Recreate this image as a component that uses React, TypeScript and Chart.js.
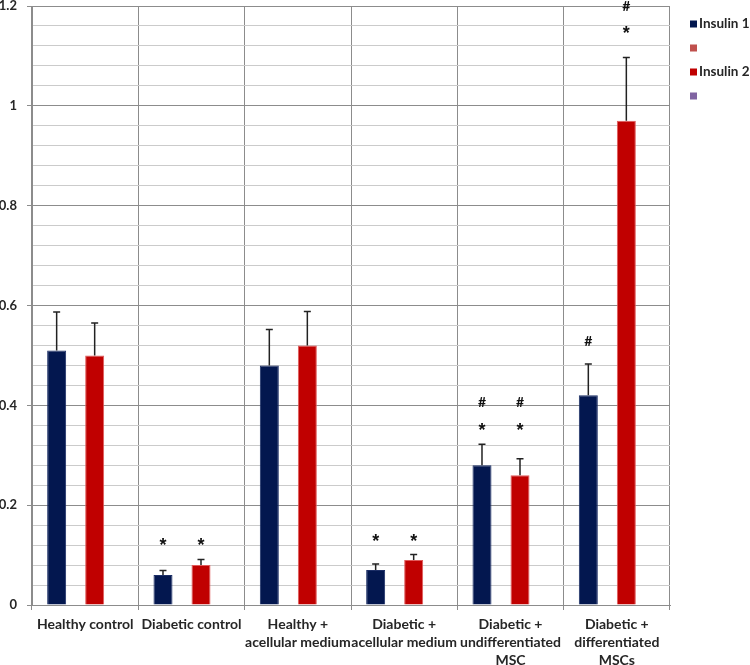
import React, { useEffect, useRef } from "react";
import { Chart, registerables } from "chart.js";

Chart.register(...registerables);

const categories: string[][] = [
  ["Healthy control"],
  ["Diabetic control"],
  ["Healthy +", "acellular medium"],
  ["Diabetic +", "acellular medium"],
  ["Diabetic +", "undifferentiated", "MSC"],
  ["Diabetic +", "differentiated", "MSCs"],
];

const seriesLabels = ["Insulin 1", "", "Insulin 2", ""];
const seriesColors = ["#03174f", "#c0504d", "#c00000", "#8064a2"];

const insulin1 = [0.51, 0.06, 0.48, 0.07, 0.28, 0.42];
const insulin1Err = [0.077, 0.009, 0.072, 0.012, 0.042, 0.063];
const insulin2 = [0.5, 0.08, 0.52, 0.09, 0.26, 0.97];
const insulin2Err = [0.065, 0.011, 0.068, 0.011, 0.033, 0.127];
const emptySeries = [null, null, null, null, null, null];

// significance marks: value level at which each symbol sits
const insulin1Star = [null, 0.129, null, 0.136, 0.359, null];
const insulin1Hash = [null, null, null, null, 0.407, 0.529];
const insulin2Star = [null, 0.129, null, 0.136, 0.359, 1.154];
const insulin2Hash = [null, null, null, null, 0.407, 1.2];

const yMin = 0;
const yMax = 1.2;
const yStep = 0.04;

const FONT = "Lato, 'Open Sans', sans-serif";

const errorBarPlugin = {
  id: "errorBarsAndMarks",
  afterDatasetsDraw(chart: any) {
    const ctx = chart.ctx;
    const y = chart.scales.y;
    const specs = [
      { ds: 0, vals: insulin1, err: insulin1Err, star: insulin1Star, hash: insulin1Hash },
      { ds: 2, vals: insulin2, err: insulin2Err, star: insulin2Star, hash: insulin2Hash },
    ];
    ctx.save();
    for (const s of specs) {
      const meta = chart.getDatasetMeta(s.ds);
      meta.data.forEach((bar: any, i: number) => {
        const v = s.vals[i];
        if (v == null) return;
        const x = bar.x;
        const top = y.getPixelForValue(v);
        const errTop = y.getPixelForValue(v + s.err[i]);
        ctx.strokeStyle = "#222222";
        ctx.lineWidth = 1.5;
        ctx.beginPath();
        ctx.moveTo(x, top);
        ctx.lineTo(x, errTop);
        ctx.moveTo(x - 3.5, errTop);
        ctx.lineTo(x + 3.5, errTop);
        ctx.stroke();
        ctx.fillStyle = "#111111";
        ctx.textAlign = "center";
        ctx.textBaseline = "alphabetic";
        const st = s.star[i];
        if (st != null) {
          ctx.font = "bold 18px 'Liberation Sans', Arial, sans-serif";
          ctx.fillText("*", x, y.getPixelForValue(st) + 10);
        }
        const hs = s.hash[i];
        if (hs != null) {
          ctx.font = "bold 14px " + FONT;
          ctx.fillText("#", x, y.getPixelForValue(hs) + 5);
        }
      });
    }
    ctx.restore();
  },
  afterDraw(chart: any) {
    const ctx = chart.ctx;
    ctx.save();
    chart.data.datasets.forEach((d: any, i: number) => {
      const cy = 24 + i * 24;
      ctx.fillStyle = d.backgroundColor;
      ctx.fillRect(690, cy - 3.5, 7, 7);
      ctx.fillStyle = "#262626";
      ctx.font = "bold 13.5px " + FONT;
      ctx.textAlign = "left";
      ctx.textBaseline = "middle";
      ctx.fillText(d.label, 699, cy);
    });
    ctx.restore();
  },
};

export default function App() {
  const ref = useRef<HTMLCanvasElement | null>(null);
  useEffect(() => {
    if (!ref.current) return;
    const chart = new Chart(ref.current, {
      type: "bar",
      data: {
        labels: categories as any,
        datasets: [
          { label: seriesLabels[0], data: insulin1, backgroundColor: seriesColors[0], borderColor: "#1c2e66", borderWidth: { left: 1, right: 1, top: 1, bottom: 0 } as any },
          { label: seriesLabels[1], data: emptySeries as any, backgroundColor: seriesColors[1] },
          { label: seriesLabels[2], data: insulin2, backgroundColor: seriesColors[2], borderColor: "#e05a5a", borderWidth: { left: 1, right: 1, top: 1, bottom: 0 } as any },
          { label: seriesLabels[3], data: emptySeries as any, backgroundColor: seriesColors[3] },
        ],
      },
      options: {
        responsive: false,
        animation: false,
        layout: { padding: { top: 6, right: 80, left: 0, bottom: 0 } },
        plugins: {
          legend: { display: false },
          tooltip: { enabled: false },
        },
        datasets: {
          bar: { categoryPercentage: 0.715, barPercentage: 1 },
        },
        scales: {
          x: {
            grid: {
              offset: true,
              color: "#8c8c8c",
              tickLength: 5,
              tickColor: "#8c8c8c",
            },
            border: { color: "#8c8c8c" },
            ticks: {
              autoSkip: false,
              maxRotation: 0,
              minRotation: 0,
              padding: 5,
              color: "#262626",
              font: { family: FONT, size: 14, weight: "bold", lineHeight: 1.3 },
            },
            afterFit(scale: any) {
              scale.height = 60;
              scale.paddingLeft = 0;
              scale.paddingRight = 0;
            },
          },
          y: {
            min: yMin,
            max: yMax,
            grid: {
              color: (c: any) => {
                const v = c.tick ? c.tick.value : 0;
                return Math.round(v * 100) % 20 === 0 ? "#8c8c8c" : "#cbcbcb";
              },
              tickLength: 5,
              tickColor: (c: any) => {
                const v = c.tick ? c.tick.value : 0;
                return Math.round(v * 100) % 20 === 0 ? "#8c8c8c" : "rgba(0,0,0,0)";
              },
            },
            border: { color: "#8c8c8c" },
            ticks: {
              stepSize: yStep,
              autoSkip: false,
              padding: 10,
              color: "#262626",
              font: { family: FONT, size: 13, weight: "bold", lineHeight: 1 },
              callback: (v: any) => {
                const n = Number(v);
                if (Math.round(n * 100) % 20 !== 0) return "";
                return String(Number(n.toFixed(1)));
              },
            },
            afterFit(scale: any) {
              scale.width = 32;
              scale.paddingTop = 0;
              scale.paddingBottom = 0;
            },
          },
        },
      },
      plugins: [errorBarPlugin],
    } as any);
    return () => chart.destroy();
  }, []);
  return (
    <div style={{ position: "fixed", left: 0, top: 0, width: 750, height: 665, background: "#ffffff" }}>
      <canvas ref={ref} width={750} height={665} style={{ width: 750, height: 665 }} />
    </div>
  );
}
